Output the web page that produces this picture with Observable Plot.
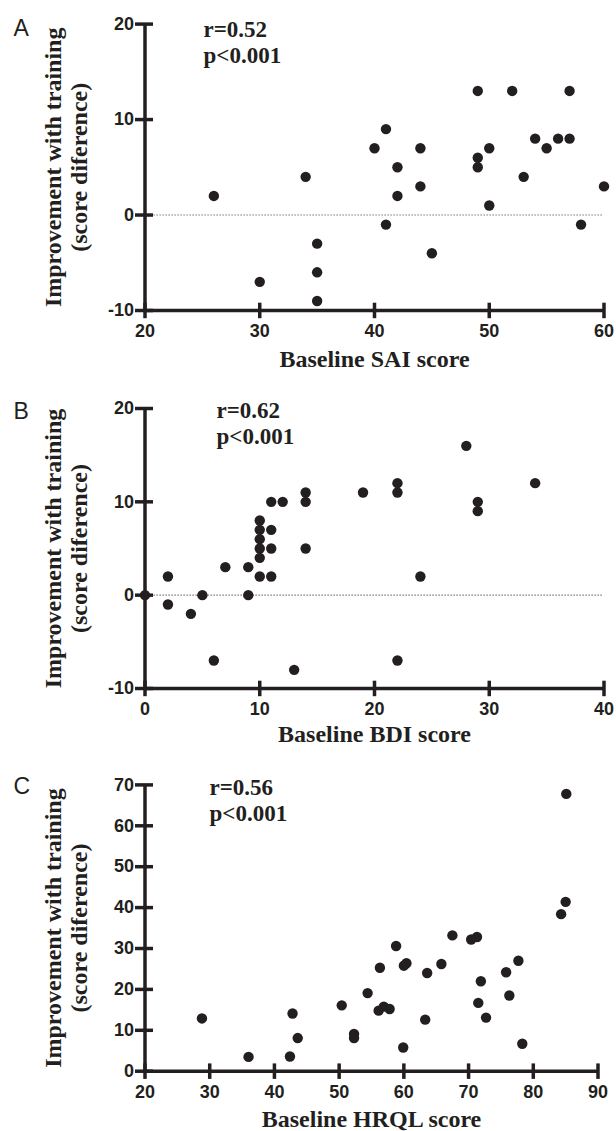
<!DOCTYPE html>
<html>
<head>
<meta charset="utf-8">
<script src="https://cdn.jsdelivr.net/npm/d3@7"></script>
<script src="https://cdn.jsdelivr.net/npm/@observablehq/plot@0.6"></script>
<style>
  html, body { margin: 0; padding: 0; background: #fff; }
  #chart svg { display: block; }
</style>
</head>
<body>
<div id="chart"></div>
<script>
// ---------- data ----------
const saiX = [26, 30, 34, 35, 35, 35, 40, 41, 41, 42, 42, 44, 44, 45, 49, 49, 49, 50, 50, 52, 53, 54, 55, 56, 57, 57, 58, 60];
const saiY = [2, -7, 4, -3, -6, -9, 7, 9, -1, 5, 2, 7, 3, -4, 13, 6, 5, 7, 1, 13, 4, 8, 7, 8, 13, 8, -1, 3];

const bdiX = [0, 2, 2, 4, 5, 6, 7, 9, 9, 10, 10, 10, 10, 10, 10, 11, 11, 11, 11, 12, 13, 14, 14, 14, 19, 22, 22, 22, 24, 28, 29, 29, 34];
const bdiY = [0, 2, -1, -2, 0, -7, 3, 3, 0, 8, 7, 6, 5, 4, 2, 10, 7, 5, 2, 10, -8, 11, 10, 5, 11, 12, 11, -7, 2, 16, 10, 9, 12];

const hrqlX = [28.8, 36.0, 42.4, 42.8, 43.6, 50.4, 52.3, 52.3, 54.4, 56.1, 56.3, 56.9, 57.8, 58.8, 59.9, 60.0, 60.4, 63.3, 63.6, 65.8, 67.5, 70.4, 71.3, 71.5, 71.9, 72.7, 75.8, 76.3, 77.7, 78.3, 84.3, 85.0, 85.1];
const hrqlY = [12.9, 3.5, 3.6, 14.1, 8.1, 16.1, 9.1, 8.1, 19.1, 14.8, 25.3, 15.8, 15.2, 30.6, 5.8, 25.8, 26.4, 12.6, 24.0, 26.2, 33.2, 32.2, 32.8, 16.7, 22.0, 13.1, 24.2, 18.5, 27.0, 6.7, 38.4, 41.4, 67.8];

const xTicksA = [20, 30, 40, 50, 60];
const yTicksA = [-10, 0, 10, 20];
const xTicksB = [0, 10, 20, 30, 40];
const yTicksB = [-10, 0, 10, 20];
const xTicksC = [20, 30, 40, 50, 60, 70, 80, 90];
const yTicksC = [0, 10, 20, 30, 40, 50, 60, 70];

const panelLetters = ["A", "B", "C"];
const statLabels = ["r=0.52\np<0.001", "r=0.62\np<0.001", "r=0.56\np<0.001"];
const xTitles = ["Baseline SAI score", "Baseline BDI score", "Baseline HRQL score"];
const yTitleLine1 = "Improvement with training";
const yTitleLine2 = "(score diference)";

// ---------- style ----------
const ink = "#231f20";
const sans = "'Liberation Sans', Arial, Helvetica, sans-serif";
const serif = "'Liberation Serif', 'Times New Roman', Times, serif";
const ML = 144.5;

function panel(cfg) {
  const data = cfg.xs.map((x, i) => ({x, y: cfg.ys[i]}));
  const xDom = d3.extent(cfg.xTicks);
  const yDom = d3.extent(cfg.yTicks);
  const fmt = d => String(d);
  return Plot.plot({
    width: 616,
    height: cfg.height,
    marginLeft: ML,
    marginRight: cfg.mr,
    marginTop: cfg.mt,
    marginBottom: cfg.mb,
    x: {domain: xDom},
    y: {domain: yDom},
    style: {fontFamily: sans, fontSize: "18px", fontWeight: "bold", color: ink, background: "#fff", overflow: "visible"},
    marks: [
      cfg.zero ? Plot.ruleY([0], {stroke: "#555", strokeWidth: 1.1, strokeDasharray: "1.2,1.8"}) : null,
      Plot.ruleX([xDom[0]], {y1: yDom[0], y2: yDom[1], stroke: ink, strokeWidth: 3.5}),
      Plot.ruleY([yDom[0]], {x1: xDom[0], x2: xDom[1], stroke: ink, strokeWidth: 3.5}),
      Plot.axisY(cfg.yTicks, {label: null, tickSize: 18, dx: 8.5, tickPadding: 1.5, strokeWidth: 3.5, tickFormat: fmt, fontSize: 18, fontWeight: "bold", fontFamily: sans}),
      Plot.axisX(cfg.xTicks, {label: null, tickSize: 15.5, dy: -7.3, tickPadding: 5.8, strokeWidth: 3.5, tickFormat: fmt, fontSize: 18, fontWeight: "bold", fontFamily: sans}),
      Plot.dot(data, {x: "x", y: "y", r: 5.2, fill: ink, stroke: "none"}),
      Plot.text([cfg.letter], {text: d => d, frameAnchor: "top-left", dx: 13 - ML, dy: cfg.letterDy, lineAnchor: "bottom", textAnchor: "start", fontFamily: sans, fontSize: 23, fontWeight: "normal", fill: ink}),
      Plot.text([cfg.stat], {text: d => d, frameAnchor: "top-left", dx: cfg.statDx, dy: cfg.statDy, lineAnchor: "bottom", textAnchor: "start", lineHeight: 1.13, fontFamily: serif, fontSize: 23, fontWeight: "bold", fill: ink}),
      Plot.text([cfg.xTitle], {text: d => d, frameAnchor: "bottom", dy: cfg.xTitleDy, lineAnchor: "bottom", textAnchor: "middle", fontFamily: serif, fontSize: 24, fontWeight: "bold", fill: ink}),
      Plot.text([yTitleLine1], {text: d => d, frameAnchor: "left", dx: -91.5, rotate: -90, textAnchor: "middle", lineAnchor: "middle", fontFamily: serif, fontSize: 24, fontWeight: "bold", fill: ink}),
      Plot.text([yTitleLine2], {text: d => d, frameAnchor: "left", dx: -66, rotate: -90, textAnchor: "middle", lineAnchor: "middle", fontFamily: serif, fontSize: 24, fontWeight: "bold", fill: ink})
    ]
  });
}

const chart = document.getElementById("chart");
chart.appendChild(panel({
  xs: saiX, ys: saiY, xTicks: xTicksA, yTicks: yTicksA,
  height: 375, mt: 23.6, mb: 65, mr: 12.5, zero: true,
  letter: panelLetters[0], letterDy: 11.4,
  stat: statLabels[0], statDx: 203 - ML, statDy: 39,
  xTitle: xTitles[0], xTitleDy: 56
}));
chart.appendChild(panel({
  xs: bdiX, ys: bdiY, xTicks: xTicksB, yTicks: yTicksB,
  height: 375, mt: 33, mb: 62, mr: 12.5, zero: true,
  letter: panelLetters[1], letterDy: 10,
  stat: statLabels[1], statDx: 216 - ML, statDy: 35,
  xTitle: xTitles[1], xTitleDy: 53
}));
chart.appendChild(panel({
  xs: hrqlX, ys: hrqlY, xTicks: xTicksC, yTicks: yTicksC,
  height: 381, mt: 34.4, mb: 60.3, mr: 18.5, zero: false,
  letter: panelLetters[2], letterDy: 8.6,
  stat: statLabels[2], statDx: 209 - ML, statDy: 35.6,
  xTitle: xTitles[2], xTitleDy: 56
}));
</script>
</body>
</html>
